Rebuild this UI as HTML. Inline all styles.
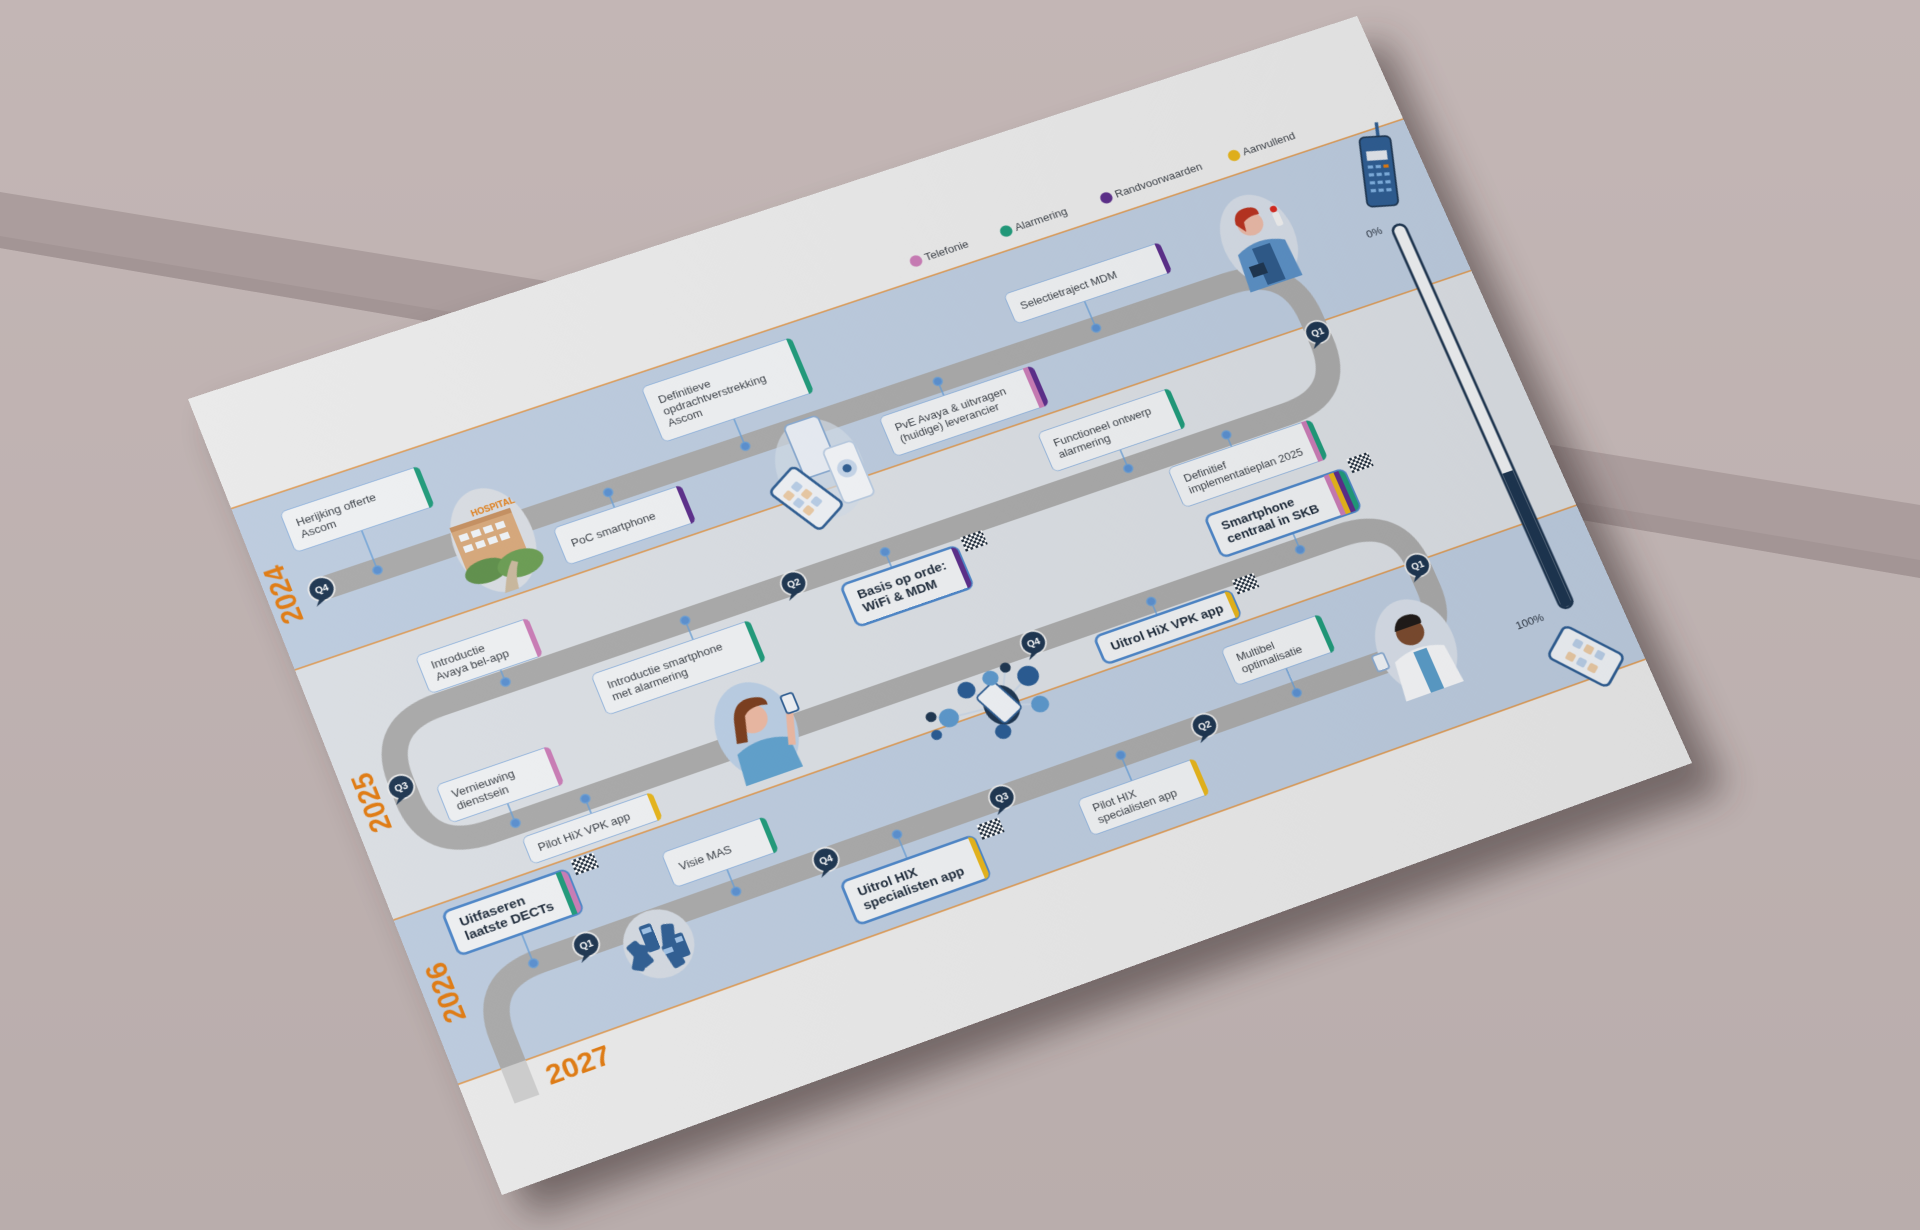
<!DOCTYPE html>
<html><head><meta charset="utf-8"><style>
html,body{margin:0;padding:0;width:1920px;height:1230px;overflow:hidden;background:#bdb0af;font-family:"Liberation Sans",sans-serif}
#bg{position:absolute;left:0;top:0}
#poster{position:absolute;left:0;top:0;width:1400px;height:990px;transform-origin:0 0;
transform:matrix3d(0.881236,-0.273064,0,0.00003402,0.301364,0.766576,0,-0.00003137,0,0,1,0,188,399,0,1);background:#e9e9e9;overflow:hidden}
.b{position:absolute;box-sizing:border-box;background:#eef0f2;border:1.5px solid #8fb2dc;border-radius:7px;color:#3a3f46;font-size:13px;line-height:15px;padding:0 20px 0 12px;display:flex;align-items:center;white-space:nowrap}
.b .s{position:absolute;top:-1px;bottom:-1px;right:-1px;display:flex;border-radius:0 7px 7px 0;overflow:hidden}
.b .s i{display:block;width:6px;height:100%}
.bb{border:3px solid #4d86c8;font-size:15px;line-height:17px;color:#1d2a3a;font-weight:bold;border-radius:9px}
.p{background:#c97bb5}.g{background:#1f9a7a}.u{background:#5b2d8a}.y{background:#e6b41a}
.flag{position:absolute;width:26px;height:18px;background:
conic-gradient(#1e2b3a 25%,#fff 0 50%,#1e2b3a 0 75%,#fff 0) 0 0/6px 6px}
</style></head><body>
<svg id="bg" width="1920" height="1230">
<defs><filter id="bl" x="-20%" y="-20%" width="140%" height="140%"><feGaussianBlur stdDeviation="18"/></filter>
<linearGradient id="wall" x1="0" y1="0" x2="0" y2="1"><stop offset="0" stop-color="#c3b6b5"/><stop offset="1" stop-color="#b9adac"/></linearGradient></defs>
<rect width="1920" height="1230" fill="url(#wall)"/>
<polygon points="0,192 1920,505 1920,578 0,248" fill="#ab9d9d"/>
<polygon points="0,236 1920,560 1920,578 0,248" fill="#a39595"/>
<polygon points="215,420 1385,40 1725,790 530,1215" fill="#3a2e2e" opacity="0.55" filter="url(#bl)"/>
</svg>
<div id="poster">
<svg width="1400" height="990" style="position:absolute;left:0;top:0">
<rect x="0" y="140" width="1400" height="204" fill="#bccbde"/>
<rect x="0" y="344" width="1400" height="311" fill="#dadee3"/>
<rect x="0" y="655" width="1400" height="201" fill="#bccbde"/>
<g stroke="#e08d35" stroke-width="1.3"><line x1="0" y1="140" x2="1400" y2="140"/><line x1="0" y1="344" x2="1400" y2="344"/><line x1="0" y1="655" x2="1400" y2="655"/><line x1="0" y1="856" x2="1400" y2="856"/></g>
<g font-size="13" fill="#3a3f46">
<circle cx="811" cy="117" r="7" fill="#c97bb5"/><text x="822" y="121">Telefonie</text>
<circle cx="920" cy="117" r="7" fill="#1f9a7a"/><text x="931" y="121">Alarmering</text>
<circle cx="1042" cy="117" r="7" fill="#5b2d8a"/><text x="1053" y="121">Randvoorwaarden</text>
<circle cx="1199" cy="117" r="7" fill="#e6b41a"/><text x="1210" y="121">Aanvullend</text>
</g>
<path d="M60 264 L1130 264 Q1205 264 1205 335 L1205 366 Q1205 437 1134 437 L132 437 Q62 437 62 505 L62 528 Q62 596 132 596 L1134 596 Q1203 596 1203 662 L1203 690 Q1203 755 1134 755 L130 755 Q62 755 62 822 L62 856" fill="none" stroke="#a9a9a9" stroke-width="28"/>
<rect x="48" y="856" width="28" height="42" fill="#cdcdcd"/>
<g font-size="32" font-weight="bold" fill="#e07a10" text-anchor="middle">
<text transform="translate(29,256) rotate(-90)">2024</text>
<text transform="translate(35,519) rotate(-90)">2025</text>
<text transform="translate(34,753) rotate(-90)">2026</text>
<text x="126" y="892">2027</text>
</g>
<g stroke="#6a9fd6" stroke-width="1.5" fill="#5a8fcf">
<line x1="123" y1="214" x2="123" y2="264"/><circle cx="123" cy="264" r="5"/>
<line x1="551" y1="229" x2="551" y2="264"/><circle cx="551" cy="264" r="5"/>
<line x1="390" y1="283" x2="390" y2="264"/><circle cx="390" cy="264" r="5"/>
<line x1="971" y1="229" x2="971" y2="264"/><circle cx="971" cy="264" r="5"/>
<line x1="780" y1="282" x2="780" y2="264"/><circle cx="780" cy="264" r="5"/>
<line x1="941" y1="413" x2="941" y2="437"/><circle cx="941" cy="437" r="5"/>
<line x1="1060" y1="452" x2="1060" y2="437"/><circle cx="1060" cy="437" r="5"/>
<line x1="1085" y1="576" x2="1085" y2="596"/><circle cx="1085" cy="596" r="5"/>
<line x1="650" y1="456" x2="650" y2="437"/><circle cx="650" cy="437" r="5"/>
<line x1="207" y1="422" x2="207" y2="437"/><circle cx="207" cy="437" r="5"/>
<line x1="415" y1="461" x2="415" y2="437"/><circle cx="415" cy="437" r="5"/>
<line x1="160" y1="572" x2="160" y2="596"/><circle cx="160" cy="596" r="5"/>
<line x1="240" y1="614" x2="240" y2="596"/><circle cx="240" cy="596" r="5"/>
<line x1="905" y1="612" x2="905" y2="596"/><circle cx="905" cy="596" r="5"/>
<line x1="1016" y1="724" x2="1016" y2="755"/><circle cx="1016" cy="755" r="5"/>
<line x1="354" y1="728" x2="354" y2="755"/><circle cx="354" cy="755" r="5"/>
<line x1="805" y1="787" x2="805" y2="755"/><circle cx="805" cy="755" r="5"/>
<line x1="541" y1="784" x2="541" y2="755"/><circle cx="541" cy="755" r="5"/>
<line x1="122" y1="720" x2="122" y2="755"/><circle cx="122" cy="755" r="5"/>
</g>
<g font-size="11" font-weight="bold" fill="#fff" text-anchor="middle">
<g transform="translate(59,264)"><circle r="14" fill="#1d3550" stroke="#e9e9e9" stroke-width="2"/><path d="M-6 10 L-12 18 L2 12Z" fill="#1d3550"/><text y="4">Q4</text></g>
<g transform="translate(1205,355)"><circle r="14" fill="#1d3550" stroke="#e9e9e9" stroke-width="2"/><path d="M-6 10 L-12 18 L2 12Z" fill="#1d3550"/><text y="4">Q1</text></g>
<g transform="translate(542,437)"><circle r="14" fill="#1d3550" stroke="#e9e9e9" stroke-width="2"/><path d="M-6 10 L-12 18 L2 12Z" fill="#1d3550"/><text y="4">Q2</text></g>
<g transform="translate(60,513)"><circle r="14" fill="#1d3550" stroke="#e9e9e9" stroke-width="2"/><path d="M-6 10 L-12 18 L2 12Z" fill="#1d3550"/><text y="4">Q3</text></g>
<g transform="translate(764,596)"><circle r="14" fill="#1d3550" stroke="#e9e9e9" stroke-width="2"/><path d="M-6 10 L-12 18 L2 12Z" fill="#1d3550"/><text y="4">Q4</text></g>
<g transform="translate(1202,660)"><circle r="14" fill="#1d3550" stroke="#e9e9e9" stroke-width="2"/><path d="M-6 10 L-12 18 L2 12Z" fill="#1d3550"/><text y="4">Q1</text></g>
<g transform="translate(905,755)"><circle r="14" fill="#1d3550" stroke="#e9e9e9" stroke-width="2"/><path d="M-6 10 L-12 18 L2 12Z" fill="#1d3550"/><text y="4">Q2</text></g>
<g transform="translate(664,755)"><circle r="14" fill="#1d3550" stroke="#e9e9e9" stroke-width="2"/><path d="M-6 10 L-12 18 L2 12Z" fill="#1d3550"/><text y="4">Q3</text></g>
<g transform="translate(458,755)"><circle r="14" fill="#1d3550" stroke="#e9e9e9" stroke-width="2"/><path d="M-6 10 L-12 18 L2 12Z" fill="#1d3550"/><text y="4">Q4</text></g>
<g transform="translate(182,755)"><circle r="14" fill="#1d3550" stroke="#e9e9e9" stroke-width="2"/><path d="M-6 10 L-12 18 L2 12Z" fill="#1d3550"/><text y="4">Q1</text></g>
</g>
<g transform="translate(253,274)">
<ellipse rx="44" ry="64" fill="#d8dce2"/>
<rect x="-40" y="-30" width="70" height="60" fill="#d6a77a"/>
<rect x="-40" y="-30" width="70" height="6" fill="#c48f60"/>
<g fill="#eef2f6"><rect x="-34" y="-18" width="10" height="8"/><rect x="-20" y="-18" width="10" height="8"/><rect x="-6" y="-18" width="10" height="8"/><rect x="8" y="-18" width="10" height="8"/>
<rect x="-34" y="-4" width="10" height="8"/><rect x="-20" y="-4" width="10" height="8"/><rect x="-6" y="-4" width="10" height="8"/><rect x="8" y="-4" width="10" height="8"/></g>
<text x="-12" y="-34" font-size="10" font-weight="bold" fill="#e07a10">HOSPITAL</text>
<ellipse cx="-20" cy="32" rx="24" ry="14" fill="#5e8f4a"/><ellipse cx="18" cy="36" rx="26" ry="16" fill="#6a9c52"/><path d="M-10 64 Q0 40 10 30 L16 34 Q8 46 6 64Z" fill="#c9b79c"/>
</g>
<g transform="translate(609,318)">
<ellipse cx="10" cy="0" rx="48" ry="62" fill="#d2dbe7" opacity="0.7"/>
<rect x="-10" y="-62" width="40" height="68" rx="6" fill="#e8edf4" stroke="#8aaad0" stroke-width="2"/>
<g transform="rotate(-30)"><rect x="-50" y="-20" width="42" height="72" rx="6" fill="#eef1f5" stroke="#2e5d92" stroke-width="3"/>
<g fill="#e9c9a4"><rect x="-44" y="-6" width="10" height="10" rx="2"/><rect x="-30" y="8" width="10" height="10" rx="2"/><rect x="-44" y="22" width="10" height="10" rx="2"/></g>
<g fill="#b8cde6"><rect x="-30" y="-6" width="10" height="10" rx="2"/><rect x="-44" y="8" width="10" height="10" rx="2"/><rect x="-30" y="22" width="10" height="10" rx="2"/></g></g>
<rect x="20" y="-20" width="36" height="70" rx="6" fill="#f2f4f7" stroke="#b9cbe1" stroke-width="2"/>
<circle cx="38" cy="10" r="11" fill="#c6d6ea"/><circle cx="38" cy="10" r="5" fill="#2e5d92"/>
</g>
<g transform="translate(1186,225)">
<ellipse rx="42" ry="58" fill="#d4dbe5"/>
<path d="M-34 58 L-30 10 Q0 -6 28 10 L30 58Z" fill="#5a8fc4"/>
<rect x="-12" y="8" width="22" height="48" fill="#2e5a8a"/>
<rect x="-24" y="28" width="18" height="14" fill="#1d3550"/>
<circle cx="-2" cy="-22" r="15" fill="#e8b8a6"/>
<path d="M-18 -26 Q-16 -44 2 -42 Q14 -40 12 -30 Q0 -32 -8 -26 L-10 -14 Z" fill="#b8321f"/>
<rect x="26" y="-26" width="8" height="18" rx="3" fill="#eee"/><circle cx="30" cy="-30" r="4" fill="#d6281e"/>
</g>
<g transform="translate(442,586)">
<ellipse rx="44" ry="58" fill="#b9cde3"/>
<path d="M-34 58 L-30 20 Q0 6 30 20 L32 58Z" fill="#5fa0cc"/>
<circle cx="0" cy="-14" r="17" fill="#eab7a1"/>
<path d="M-20 -16 Q-14 -40 6 -38 Q24 -36 22 -24 Q4 -30 -6 -20 L-14 10 L-26 8 Z" fill="#7a3c1c"/>
<path d="M30 30 L42 -10" stroke="#eab7a1" stroke-width="8"/>
<rect x="38" y="-28" width="14" height="22" rx="3" fill="#eef1f5" stroke="#2e5d92" stroke-width="2"/>
</g>
<g transform="translate(704,653)">
<g stroke="#c8d4e3" stroke-width="2"><line x1="-60" y1="-6" x2="0" y2="0"/><line x1="-30" y1="-30" x2="0" y2="0"/><line x1="40" y1="-22" x2="0" y2="0"/><line x1="40" y1="14" x2="0" y2="0"/><line x1="-10" y1="30" x2="0" y2="0"/><line x1="-78" y1="-14" x2="-60" y2="-6"/><line x1="20" y1="-40" x2="0" y2="0"/></g>
<ellipse rx="20" ry="24" fill="#1d3550"/>
<g transform="rotate(-25)"><rect x="-14" y="-26" width="28" height="44" rx="4" fill="#eef1f5" stroke="#2e5d92" stroke-width="2"/></g>
<circle cx="-60" cy="-6" r="11" fill="#5b97cb"/><circle cx="-30" cy="-30" r="10" fill="#285a92"/><circle cx="40" cy="-22" r="12" fill="#285a92"/><circle cx="40" cy="14" r="10" fill="#5b97cb"/><circle cx="-10" cy="30" r="9" fill="#285a92"/><circle cx="-78" cy="-14" r="6" fill="#1d3550"/><circle cx="-80" cy="8" r="6" fill="#285a92"/><circle cx="20" cy="-40" r="6" fill="#1d3550"/><circle cx="0" cy="-34" r="9" fill="#5b97cb"/>
</g>
<g transform="translate(1163,750)">
<ellipse rx="44" ry="58" fill="#d6dde7"/>
<path d="M-36 58 L-30 10 Q0 -4 30 10 L34 58Z" fill="#f4f5f7"/>
<rect x="-6" y="6" width="16" height="52" fill="#5a9cc8"/>
<circle cx="0" cy="-18" r="16" fill="#7a4a2e"/>
<path d="M-16 -24 Q-10 -42 8 -38 Q20 -34 16 -24 Z" fill="#1f1a18"/>
<rect x="-52" y="-6" width="14" height="20" rx="3" fill="#eef1f5" stroke="#8aaad0" stroke-width="2"/>
</g>
<g transform="translate(255,782)">
<ellipse rx="38" ry="40" fill="#d3d9e1"/>
<g fill="#2e5d92"><rect x="-30" y="-20" width="14" height="32" rx="3" transform="rotate(-20)"/><rect x="-14" y="-26" width="14" height="32" rx="3"/><rect x="4" y="-22" width="14" height="32" rx="3" transform="rotate(15)"/><rect x="-24" y="4" width="14" height="30" rx="3" transform="rotate(30)"/><rect x="0" y="4" width="14" height="30" rx="3" transform="rotate(-10)"/><rect x="16" y="-4" width="12" height="28" rx="3"/></g>
<g fill="#9ec1e6"><rect x="-12" y="-22" width="10" height="6"/><rect x="2" y="8" width="10" height="6"/><rect x="18" y="0" width="8" height="6"/></g>
</g>
<g transform="translate(1348,192) rotate(16) translate(-18,-44)">
<rect x="20" y="-18" width="4" height="20" fill="#2e5d92"/>
<rect x="0" y="0" width="36" height="88" rx="6" fill="#2e5d92" stroke="#1d3550" stroke-width="2"/>
<rect x="6" y="18" width="24" height="12" fill="#e2e6ec"/>
<g fill="#7fb0e0"><rect x="6" y="36" width="6" height="4"/><rect x="15" y="36" width="6" height="4"/><rect x="24" y="36" width="6" height="4" fill="#e07a10"/>
<rect x="6" y="46" width="6" height="4"/><rect x="15" y="46" width="6" height="4"/><rect x="24" y="46" width="6" height="4"/>
<rect x="6" y="56" width="6" height="4"/><rect x="15" y="56" width="6" height="4"/><rect x="24" y="56" width="6" height="4"/>
<rect x="6" y="66" width="6" height="4"/><rect x="15" y="66" width="6" height="4"/><rect x="24" y="66" width="6" height="4"/></g>
</g>
<rect x="1334" y="262" width="16" height="505" rx="8" fill="#eef0f2" stroke="#1d3550" stroke-width="3"/>
<path d="M1335.5 590 L1348.5 590 L1348.5 759 Q1348.5 765.5 1342 765.5 Q1335.5 765.5 1335.5 759 Z" fill="#1d3550"/>
<text x="1304" y="266" font-size="13" fill="#2a3340">0%</text>
<text x="1278" y="772" font-size="13" fill="#2a3340">100%</text>
<g transform="translate(1338,829) rotate(-40)">
<rect x="-22" y="-38" width="44" height="76" rx="7" fill="#eef1f5" stroke="#2e5d92" stroke-width="3"/>
<g fill="#e9c9a4"><rect x="-14" y="-20" width="10" height="10" rx="2"/><rect x="4" y="-6" width="10" height="10" rx="2"/><rect x="-14" y="8" width="10" height="10" rx="2"/></g>
<g fill="#b8cde6"><rect x="4" y="-20" width="10" height="10" rx="2"/><rect x="-14" y="-6" width="10" height="10" rx="2"/><rect x="4" y="8" width="10" height="10" rx="2"/></g>
</g>
</svg>
<div class="b" style="left:47px;top:162px;width:160px;height:52px">Herijking offerte<br>Ascom<span class="s"><i class="g"></i></span></div>
<div class="b" style="left:468px;top:157px;width:178px;height:72px">Definitieve<br>opdrachtverstrekking<br>Ascom<span class="s"><i class="g"></i></span></div>
<div class="b" style="left:318px;top:283px;width:150px;height:48px">PoC smartphone<span class="s"><i class="u"></i></span></div>
<div class="b" style="left:888px;top:189px;width:190px;height:40px">Selectietraject MDM<span class="s"><i class="u"></i></span></div>
<div class="b" style="left:702px;top:282px;width:185px;height:52px">PvE Avaya &amp; uitvragen<br>(huidige) leverancier<span class="s"><i class="p"></i><i class="u"></i></span></div>
<div class="b" style="left:861px;top:361px;width:160px;height:52px">Functioneel ontwerp<br>alarmering<span class="s"><i class="g"></i></span></div>
<div class="b" style="left:982px;top:452px;width:175px;height:52px">Definitief<br>implementatieplan 2025<span class="s"><i class="p"></i><i class="g"></i></span></div>
<div class="b bb" style="left:998px;top:520px;width:172px;height:56px;padding-right:34px">Smartphone<br>centraal in SKB<span class="s"><i class="p"></i><i class="y"></i><i class="u"></i><i class="g"></i></span></div>
<div class="flag" style="left:1176px;top:512px"></div>
<div class="b bb" style="left:588px;top:456px;width:140px;height:56px">Basis op orde:<br>WiFi &amp; MDM<span class="s"><i class="u"></i></span></div>
<div class="flag" style="left:734px;top:450px"></div>
<div class="b" style="left:126px;top:374px;width:130px;height:48px">Introductie<br>Avaya bel-app<span class="s"><i class="p"></i></span></div>
<div class="b" style="left:296px;top:461px;width:185px;height:52px">Introductie smartphone<br>met alarmering<span class="s"><i class="g"></i></span></div>
<div class="b" style="left:95px;top:524px;width:130px;height:48px">Vernieuwing<br>dienstsein<span class="s"><i class="p"></i></span></div>
<div class="b" style="left:160px;top:614px;width:150px;height:34px">Pilot HiX VPK app<span class="s"><i class="y"></i></span></div>
<div class="b bb" style="left:828px;top:612px;width:166px;height:38px">Uitrol HiX VPK app<span class="s"><i class="y"></i></span></div>
<div class="flag" style="left:999px;top:604px"></div>
<div class="b" style="left:956px;top:676px;width:120px;height:48px">Multibel<br>optimalisatie<span class="s"><i class="g"></i></span></div>
<div class="b" style="left:294px;top:684px;width:120px;height:44px">Visie MAS<span class="s"><i class="g"></i></span></div>
<div class="b" style="left:740px;top:787px;width:140px;height:46px">Pilot HIX<br>specialisten app<span class="s"><i class="y"></i></span></div>
<div class="b bb" style="left:462px;top:784px;width:158px;height:56px">Uitrol HIX<br>specialisten app<span class="s"><i class="y"></i></span></div>
<div class="flag" style="left:626px;top:776px"></div>
<div class="b bb" style="left:50px;top:664px;width:144px;height:56px;padding-right:26px">Uitfaseren<br>laatste DECTs<span class="s"><i class="g"></i><i class="p"></i></span></div>
<div class="flag" style="left:200px;top:658px"></div>
<div style="position:absolute;inset:0;background:linear-gradient(110deg,rgba(255,255,255,0.03),rgba(0,0,0,0.05))"></div>
</div>
</body></html>
